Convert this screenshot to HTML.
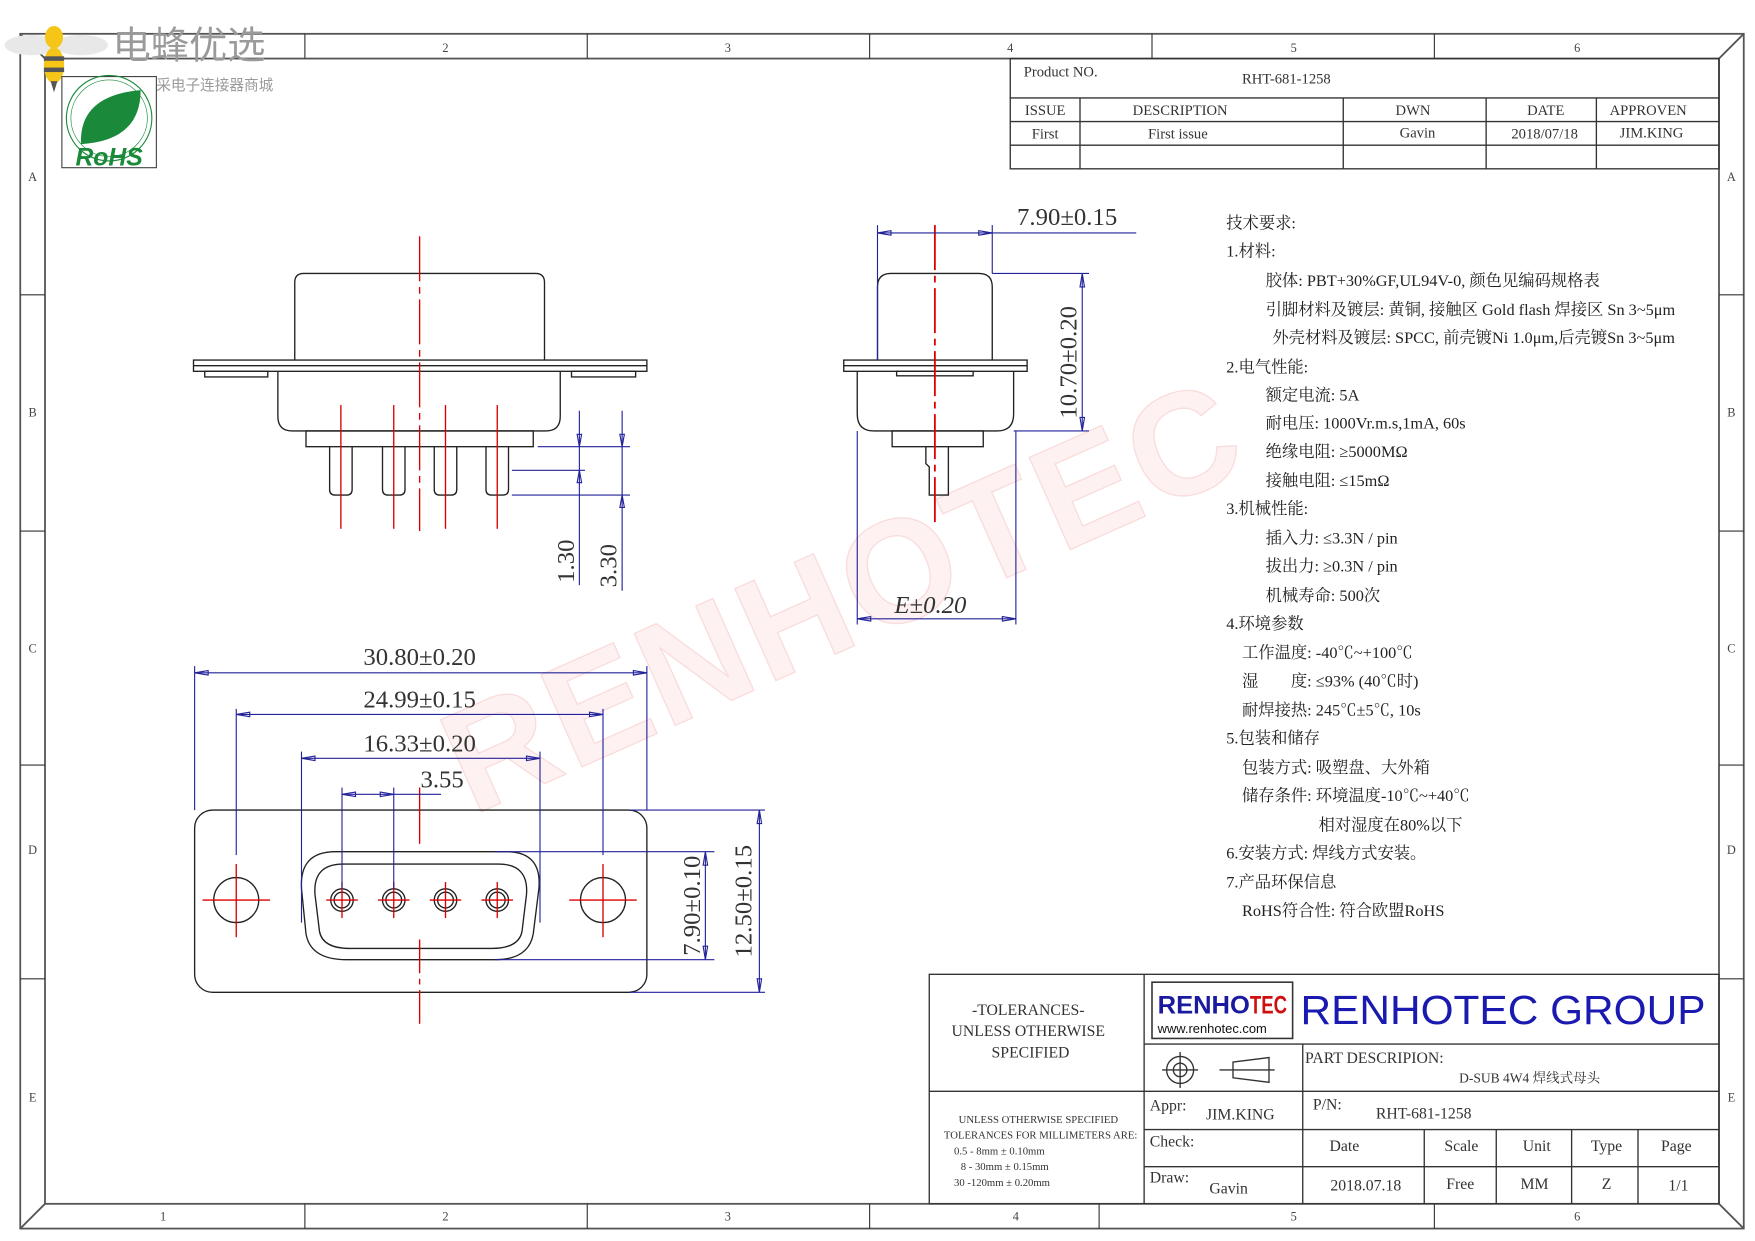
<!DOCTYPE html>
<html><head><meta charset="utf-8"><style>
html,body{margin:0;padding:0;background:#fff;}
svg{display:block;}
text{font-family:"Liberation Serif","Noto Serif CJK SC",serif;}
.s{font-family:"Liberation Sans","Noto Sans CJK SC",sans-serif;}
.c{font-family:"Liberation Sans","Noto Sans CJK SC",sans-serif;font-size:14.5px;fill:#222;}
</style></head><body>
<svg width="1755" height="1241" viewBox="0 0 1560 1103" xmlns="http://www.w3.org/2000/svg">
<rect width="1560" height="1103" fill="#fff"/>
<!-- watermark -->
<text x="0" y="0" transform="translate(420,725) rotate(-24)" class="s" font-size="130" font-weight="bold" fill="#fef1f1" stroke="#fadcdc" stroke-width="1.2" letter-spacing="4">RENHOTEC</text>

<!-- frame -->
<g fill="none" stroke="#555" stroke-width="1.6">
<rect x="18" y="30" width="1532" height="1062"/>
<rect x="40" y="52" width="1488" height="1018"/>
<line x1="1528" y1="52" x2="1550" y2="30"/><line x1="1528" y1="1070" x2="1550" y2="1092"/><line x1="40" y1="1070" x2="18" y2="1092"/><line x1="40" y1="52" x2="18" y2="30"/>
</g>
<g stroke="#333" stroke-width="1">
<line x1="271" y1="30" x2="271" y2="52"/><line x1="522" y1="30" x2="522" y2="52"/><line x1="773" y1="30" x2="773" y2="52"/><line x1="1024" y1="30" x2="1024" y2="52"/><line x1="1275" y1="30" x2="1275" y2="52"/>
<line x1="271" y1="1070" x2="271" y2="1092"/><line x1="522" y1="1070" x2="522" y2="1092"/><line x1="773" y1="1070" x2="773" y2="1092"/><line x1="977" y1="1070" x2="977" y2="1092"/><line x1="1275" y1="1070" x2="1275" y2="1092"/>
<line x1="18" y1="262" x2="40" y2="262"/><line x1="18" y1="472" x2="40" y2="472"/><line x1="18" y1="680" x2="40" y2="680"/><line x1="18" y1="870" x2="40" y2="870"/>
<line x1="1528" y1="262" x2="1550" y2="262"/><line x1="1528" y1="472" x2="1550" y2="472"/><line x1="1528" y1="680" x2="1550" y2="680"/><line x1="1528" y1="870" x2="1550" y2="870"/>
</g>
<g font-size="11" fill="#444" text-anchor="middle">
<text x="396" y="46">2</text><text x="647" y="46">3</text><text x="898" y="46">4</text><text x="1150" y="46">5</text><text x="1402" y="46">6</text>
<text x="145" y="1085">1</text><text x="396" y="1085">2</text><text x="647" y="1085">3</text><text x="903" y="1085">4</text><text x="1150" y="1085">5</text><text x="1402" y="1085">6</text>
<text x="29" y="161">A</text><text x="29" y="370">B</text><text x="29" y="580">C</text><text x="29" y="759">D</text><text x="29" y="979">E</text>
<text x="1539" y="161">A</text><text x="1539" y="370">B</text><text x="1539" y="580">C</text><text x="1539" y="759">D</text><text x="1539" y="979">E</text>
</g>

<!-- logos -->
<g>
<ellipse cx="28" cy="40" rx="24" ry="9" fill="#e8e8e8"/><ellipse cx="72" cy="40" rx="24" ry="9" fill="#e8e8e8"/>
<ellipse cx="48" cy="33" rx="8" ry="10" fill="#f5c518"/>
<ellipse cx="48" cy="58" rx="9" ry="16" fill="#f5c518"/>
<rect x="39" y="50" width="18" height="4" fill="#555"/><rect x="39" y="60" width="18" height="4" fill="#555"/>
<polygon points="45,72 51,72 48,82" fill="#555"/>
<text x="100" y="52" class="s" font-size="34" fill="#9a9a9a">电蜂优选</text>
<text x="100" y="80" class="s" font-size="13" fill="#9a9a9a">原厂直采电子连接器商城</text>
<rect x="55" y="68" width="84" height="81" fill="#fff" stroke="#444" stroke-width="1"/>
<circle cx="97" cy="105" r="38" fill="none" stroke="#1a8a3a" stroke-width="1"/>
<circle cx="97" cy="105" r="34" fill="none" stroke="#1a8a3a" stroke-width="0.6"/>
<path d="M72 128 Q70 85 125 80 Q125 125 72 128Z" fill="#1a8a3a"/>
<text x="97" y="147" text-anchor="middle" class="s" font-size="22" font-weight="bold" font-style="italic" fill="#1a8a3a">RoHS</text>
</g>

<!-- top title block -->
<g fill="none" stroke="#333" stroke-width="1.2">
<rect x="898" y="52" width="630" height="98"/>
<line x1="898" y1="87" x2="1528" y2="87"/><line x1="898" y1="108" x2="1528" y2="108"/><line x1="898" y1="129" x2="1528" y2="129"/>
<line x1="960" y1="87" x2="960" y2="150"/><line x1="1194" y1="87" x2="1194" y2="150"/><line x1="1321" y1="87" x2="1321" y2="150"/><line x1="1419" y1="87" x2="1419" y2="150"/>
</g>
<g font-size="13" fill="#333">
<text x="910" y="68">Product NO.</text><text x="1104" y="74">RHT-681-1258</text>
<g text-anchor="middle"><text x="929" y="102">ISSUE</text><text x="1049" y="102">DESCRIPTION</text><text x="1256" y="102">DWN</text><text x="1374" y="102">DATE</text><text x="1465" y="102">APPROVEN</text>
<text x="929" y="123">First</text><text x="1047" y="123">First issue</text><text x="1260" y="122">Gavin</text><text x="1373" y="123">2018/07/18</text><text x="1468" y="122">JIM.KING</text></g>
</g>

<!-- front view -->
<g fill="none" stroke="#222" stroke-width="1.2">
<path d="M262 320 L262 251 Q262 243 270 243 L476 243 Q484 243 484 251 L484 320"/>
<rect x="172" y="320" width="403" height="10"/><line x1="172" y1="325" x2="575" y2="325"/>
<rect x="182" y="330" width="56" height="5"/><rect x="508" y="330" width="57" height="5"/>
<path d="M247 330 L247 370 Q247 383 260 383 L485 383 Q498 383 498 370 L498 330"/>
<rect x="272" y="383" width="202" height="14"/>
<g><path d="M293 397 L293 435 Q293 440 298 440 L308 440 Q313 440 313 435 L313 397"/><path d="M340 397 L340 435 Q340 440 345 440 L355 440 Q360 440 360 435 L360 397"/><path d="M386 397 L386 435 Q386 440 391 440 L401 440 Q406 440 406 435 L406 397"/><path d="M432 397 L432 435 Q432 440 437 440 L447 440 Q452 440 452 435 L452 397"/></g>
</g>
<g stroke="#d00" stroke-width="1.2">
<line x1="373" y1="210" x2="373" y2="472" stroke-dasharray="40 5 6 5"/>
<line x1="303" y1="360" x2="303" y2="470"/><line x1="350" y1="360" x2="350" y2="470"/><line x1="396" y1="360" x2="396" y2="470"/><line x1="442" y1="360" x2="442" y2="470"/>
</g>
<g stroke="#22229a" stroke-width="1" fill="none">
<line x1="478" y1="397" x2="560" y2="397"/><line x1="455" y1="418" x2="520" y2="418"/><line x1="455" y1="440" x2="560" y2="440"/>
<line x1="515" y1="365" x2="515" y2="520"/><line x1="553" y1="365" x2="553" y2="525"/>
<path d="M513 386 L515 397 L517 386Z M513 429 L515 418 L517 429Z M551 386 L553 397 L555 386Z M551 451 L553 440 L555 451Z"/>
</g>
<g class="s" font-size="22" fill="#333"><text transform="translate(510,518) rotate(-90)">1.30</text><text transform="translate(548,522) rotate(-90)">3.30</text></g>

<!-- side view -->
<g fill="none" stroke="#222" stroke-width="1.2">
<path d="M780 320 L780 255 Q780 243 792 243 L870 243 Q882 243 882 255 L882 320"/>
<rect x="750" y="320" width="163" height="10"/><line x1="750" y1="325" x2="913" y2="325"/>
<rect x="797" y="330" width="68" height="4"/>
<path d="M762 330 L762 368 Q762 383 777 383 L886 383 Q901 383 901 368 L901 330"/>
<rect x="793" y="383" width="81" height="14"/>
<path d="M823 397 L823 412 L826 415 L826 440 L843 440 L843 397"/>
</g>
<line x1="831" y1="200" x2="831" y2="467" stroke="#d00" stroke-width="1.6" stroke-dasharray="40 5 6 5"/>
<g stroke="#22229a" stroke-width="1" fill="none">
<line x1="780" y1="207" x2="1010" y2="207"/><line x1="780" y1="200" x2="780" y2="320"/><line x1="882" y1="200" x2="882" y2="243"/>
<path d="M792 205 L780 207 L792 209Z M870 205 L882 207 L870 209Z"/>
<line x1="882" y1="243" x2="968" y2="243"/><line x1="901" y1="383" x2="968" y2="383"/><line x1="962" y1="243" x2="962" y2="383"/>
<path d="M960 255 L962 243 L964 255Z M960 371 L962 383 L964 371Z"/>
<line x1="762" y1="383" x2="762" y2="555"/><line x1="903" y1="383" x2="903" y2="555"/><line x1="762" y1="550" x2="903" y2="550"/>
<path d="M774 548 L762 550 L774 552Z M891 548 L903 550 L891 552Z"/>
</g>
<g class="s" font-size="22" fill="#333"><text x="904" y="200">7.90±0.15</text><text transform="translate(957,372) rotate(-90)">10.70±0.20</text><text x="795" y="545" font-style="italic">E±0.20</text></g>

<!-- bottom view -->
<g fill="none" stroke="#222" stroke-width="1.2">
<rect x="173" y="720" width="402" height="162" rx="16"/>
<circle cx="210" cy="800" r="20"/><circle cx="536" cy="800" r="20"/>
<path d="M298 757 L450 757 Q482 757 479 790 L474 830 Q470 853 440 853 L308 853 Q276 853 272 830 L268 790 Q266 757 298 757Z"/>
<path d="M305 768 L443 768 Q470 768 468 795 L464 828 Q461 843 437 843 L311 843 Q287 843 284 828 L280 795 Q278 768 305 768Z"/>
<circle cx="304" cy="800" r="10"/><circle cx="304" cy="800" r="7"/><circle cx="350" cy="800" r="10"/><circle cx="350" cy="800" r="7"/><circle cx="396" cy="800" r="10"/><circle cx="396" cy="800" r="7"/><circle cx="442" cy="800" r="10"/><circle cx="442" cy="800" r="7"/>
</g>
<g stroke="#d00" stroke-width="1.2">
<line x1="373" y1="835" x2="373" y2="910" stroke-dasharray="30 5 5 5"/><line x1="373" y1="700" x2="373" y2="750"/>
<line x1="180" y1="800" x2="240" y2="800"/><line x1="210" y1="768" x2="210" y2="833"/>
<line x1="506" y1="800" x2="566" y2="800"/><line x1="536" y1="768" x2="536" y2="833"/>
<line x1="290" y1="800" x2="318" y2="800"/><line x1="304" y1="784" x2="304" y2="816"/>
<line x1="336" y1="800" x2="364" y2="800"/><line x1="350" y1="784" x2="350" y2="816"/>
<line x1="382" y1="800" x2="410" y2="800"/><line x1="396" y1="784" x2="396" y2="816"/>
<line x1="428" y1="800" x2="456" y2="800"/><line x1="442" y1="784" x2="442" y2="816"/>
</g>
<g stroke="#22229a" stroke-width="1" fill="none">
<line x1="173" y1="598" x2="575" y2="598"/><line x1="173" y1="592" x2="173" y2="720"/><line x1="575" y1="592" x2="575" y2="720"/>
<line x1="210" y1="635" x2="536" y2="635"/><line x1="210" y1="630" x2="210" y2="760"/><line x1="536" y1="630" x2="536" y2="760"/>
<line x1="268" y1="674" x2="480" y2="674"/><line x1="268" y1="668" x2="268" y2="820"/><line x1="480" y1="668" x2="480" y2="820"/>
<line x1="304" y1="706" x2="392" y2="706"/><line x1="304" y1="700" x2="304" y2="790"/><line x1="350" y1="700" x2="350" y2="790"/>
<path d="M185 596 L173 598 L185 600Z M563 596 L575 598 L563 600Z M222 633 L210 635 L222 637Z M524 633 L536 635 L524 637Z M280 672 L268 674 L280 676Z M468 672 L480 674 L468 676Z M316 704 L304 706 L316 708Z M338 704 L350 706 L338 708Z"/>
<line x1="440" y1="757" x2="635" y2="757"/><line x1="440" y1="853" x2="635" y2="853"/><line x1="627" y1="757" x2="627" y2="853"/>
<line x1="560" y1="720" x2="680" y2="720"/><line x1="560" y1="882" x2="680" y2="882"/><line x1="675" y1="720" x2="675" y2="882"/>
<path d="M625 769 L627 757 L629 769Z M625 841 L627 853 L629 841Z M673 732 L675 720 L677 732Z M673 870 L675 882 L677 870Z"/>
</g>
<g class="s" font-size="22" fill="#333" text-anchor="middle">
<text x="373" y="591">30.80±0.20</text><text x="373" y="629">24.99±0.15</text><text x="373" y="668">16.33±0.20</text><text x="393" y="700">3.55</text>
<text transform="translate(622,805) rotate(-90)">7.90±0.10</text><text transform="translate(668,801) rotate(-90)">12.50±0.15</text>
</g>

<!-- tech requirements -->
<g class="c">
<text x="1090" y="203">技术要求:</text>
<text x="1090" y="228">1.材料:</text>
<text x="1125" y="254">胶体: PBT+30%GF,UL94V-0, 颜色见编码规格表</text>
<text x="1125" y="280">引脚材料及镀层: 黄铜, 接触区 Gold flash 焊接区 Sn 3~5μm</text>
<text x="1131" y="305">外壳材料及镀层: SPCC, 前壳镀Ni 1.0μm,后壳镀Sn 3~5μm</text>
<text x="1090" y="331">2.电气性能:</text>
<text x="1125" y="356">额定电流: 5A</text>
<text x="1125" y="381">耐电压: 1000Vr.m.s,1mA, 60s</text>
<text x="1125" y="406">绝缘电阻: ≥5000MΩ</text>
<text x="1125" y="432">接触电阻: ≤15mΩ</text>
<text x="1090" y="457">3.机械性能:</text>
<text x="1125" y="483">插入力: ≤3.3N / pin</text>
<text x="1125" y="508">拔出力: ≥0.3N / pin</text>
<text x="1125" y="534">机械寿命: 500次</text>
<text x="1090" y="559">4.环境参数</text>
<text x="1104" y="585">工作温度: -40℃~+100℃</text>
<text x="1104" y="610">湿　　度: ≤93% (40℃时)</text>
<text x="1104" y="636">耐焊接热: 245℃±5℃, 10s</text>
<text x="1090" y="661">5.包装和储存</text>
<text x="1104" y="687">包装方式: 吸塑盘、大外箱</text>
<text x="1104" y="712">储存条件: 环境温度-10℃~+40℃</text>
<text x="1172" y="738">相对湿度在80%以下</text>
<text x="1090" y="763">6.安装方式: 焊线方式安装。</text>
<text x="1090" y="789">7.产品环保信息</text>
<text x="1104" y="814">RoHS符合性: 符合欧盟RoHS</text>
</g>

<!-- bottom title block -->
<g fill="none" stroke="#333" stroke-width="1.2">
<rect x="826" y="866" width="702" height="204"/>
<line x1="1017" y1="866" x2="1017" y2="1070"/><line x1="826" y1="970" x2="1017" y2="970"/>
<line x1="1017" y1="928" x2="1528" y2="928"/><line x1="1017" y1="970" x2="1528" y2="970"/><line x1="1017" y1="1004" x2="1528" y2="1004"/><line x1="1017" y1="1037" x2="1528" y2="1037"/>
<line x1="1158" y1="928" x2="1158" y2="1070"/>
<line x1="1266" y1="1004" x2="1266" y2="1070"/><line x1="1330" y1="1004" x2="1330" y2="1070"/><line x1="1397" y1="1004" x2="1397" y2="1070"/><line x1="1456" y1="1004" x2="1456" y2="1070"/>
<rect x="1024" y="873" width="125" height="50" stroke-width="1.4"/>
<circle cx="1049" cy="951" r="12"/><circle cx="1049" cy="951" r="6"/><line x1="1033" y1="951" x2="1065" y2="951"/><line x1="1049" y1="935" x2="1049" y2="967"/>
<path d="M1096 944 L1128 940 L1128 962 L1096 958Z"/><line x1="1084" y1="951" x2="1133" y2="951"/>
</g>
<text x="1029" y="901" class="s" font-size="22" font-weight="bold" fill="#1a1aa0" textLength="82" lengthAdjust="spacingAndGlyphs">RENHO</text>
<text x="1111" y="901" class="s" font-size="22" font-weight="bold" fill="#d01010" textLength="33" lengthAdjust="spacingAndGlyphs">TEC</text>
<text x="1029" y="918" class="s" font-size="11.5" fill="#111">www.renhotec.com</text>
<text x="1156" y="910" class="s" font-size="36" fill="#1a1ab0" textLength="360" lengthAdjust="spacingAndGlyphs">RENHOTEC GROUP</text>
<g fill="#333" font-size="14">
<g text-anchor="middle"><text x="914" y="902">-TOLERANCES-</text><text x="914" y="921">UNLESS OTHERWISE</text><text x="916" y="940">SPECIFIED</text></g>
<g font-size="9.5" text-anchor="middle"><text x="923" y="998">UNLESS OTHERWISE SPECIFIED</text><text x="925" y="1012">TOLERANCES FOR MILLIMETERS ARE:</text></g>
<g font-size="9.5"><text x="848" y="1026">0.5 - 8mm ± 0.10mm</text><text x="854" y="1040">8 - 30mm ± 0.15mm</text><text x="848" y="1054">30 -120mm ± 0.20mm</text></g>
<text x="1160" y="945">PART DESCRIPION:</text>
<text x="1297" y="962" font-size="12">D-SUB 4W4 焊线式母头</text>
<text x="1022" y="987">Appr:</text><text x="1072" y="995">JIM.KING</text>
<text x="1167" y="986">P/N:</text><text x="1223" y="994">RHT-681-1258</text>
<text x="1022" y="1019">Check:</text>
<text x="1022" y="1051">Draw:</text><text x="1075" y="1061">Gavin</text>
<g text-anchor="middle"><text x="1195" y="1023">Date</text><text x="1299" y="1023">Scale</text><text x="1366" y="1023">Unit</text><text x="1428" y="1023">Type</text><text x="1490" y="1023">Page</text>
<text x="1214" y="1058">2018.07.18</text><text x="1298" y="1057">Free</text><text x="1364" y="1057">MM</text><text x="1428" y="1057">Z</text><text x="1492" y="1058">1/1</text></g>
</g>
</svg>
</body></html>
